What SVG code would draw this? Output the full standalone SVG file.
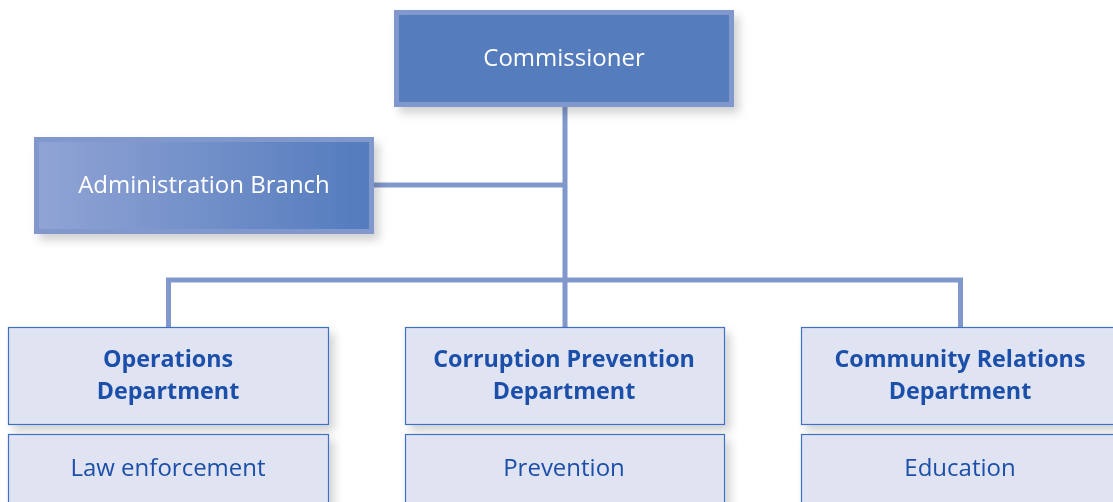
<svg xmlns="http://www.w3.org/2000/svg" width="1113" height="502" viewBox="0 0 1113 502">
  <style>
    .conn { fill: none; stroke: #8198cc; stroke-width: 5; }
    .top { fill: #547bbd; stroke: #8198cc; stroke-width: 5; }
    .dept { fill: #e0e4f2; stroke: #3f6fc1; stroke-width: 1.2; }
    .light { font-family: "Open Sans", "Noto Sans", sans-serif; font-size: 24px; fill: #ffffff; text-anchor: middle; }
    .bold { font-family: "Open Sans", "Noto Sans", sans-serif; font-size: 23.3px; font-weight: bold; fill: #1c4fa9; text-anchor: middle; }
    .reg { font-family: "Open Sans", "Noto Sans", sans-serif; font-size: 24px; fill: #1c4fa9; text-anchor: middle; }
  </style>
  <defs>
    <filter id="shadow" x="-10%" y="-20%" width="130%" height="150%">
      <feDropShadow dx="5" dy="6" stdDeviation="5" flood-color="#000000" flood-opacity="0.18"/>
    </filter>
    <linearGradient id="adminFill" x1="0" y1="0" x2="1" y2="0">
      <stop offset="0" stop-color="#91a4d5"/>
      <stop offset="1" stop-color="#537bbd"/>
    </linearGradient>
  </defs>

  <rect width="1113" height="502" fill="#ffffff"/>

  <g id="connectors">
    <path class="conn" d="M565,107 V327"/>
    <path class="conn" d="M374,185 H565"/>
    <path class="conn" d="M168.5,327 V280 H960.5 V327"/>
  </g>

  <g id="commissioner" filter="url(#shadow)">
    <rect class="top" x="396.5" y="12.5" width="335" height="92"/>
    <text class="light" x="564" y="66">Commissioner</text>
  </g>

  <g id="administration-branch" filter="url(#shadow)">
    <rect class="top" x="36.5" y="139.5" width="335" height="92" style="fill:url(#adminFill)"/>
    <text class="light" x="204" y="193">Administration Branch</text>
  </g>

  <g id="operations-department" filter="url(#shadow)">
    <rect class="dept" x="8.5" y="327.5" width="320" height="97"/>
    <text class="bold" x="168" y="367">Operations</text>
    <text class="bold" x="168" y="399">Department</text>
  </g>
  <g id="law-enforcement" filter="url(#shadow)">
    <rect class="dept" x="8.5" y="434.5" width="320" height="80"/>
    <text class="reg" x="168" y="476">Law enforcement</text>
  </g>

  <g id="corruption-prevention-department" filter="url(#shadow)">
    <rect class="dept" x="405.5" y="327.5" width="319" height="97"/>
    <text class="bold" x="564" y="367">Corruption Prevention</text>
    <text class="bold" x="564" y="399">Department</text>
  </g>
  <g id="prevention" filter="url(#shadow)">
    <rect class="dept" x="405.5" y="434.5" width="319" height="80"/>
    <text class="reg" x="564" y="476">Prevention</text>
  </g>

  <g id="community-relations-department" filter="url(#shadow)">
    <rect class="dept" x="801.5" y="327.5" width="320" height="97"/>
    <text class="bold" x="960" y="367">Community Relations</text>
    <text class="bold" x="960" y="399">Department</text>
  </g>
  <g id="education" filter="url(#shadow)">
    <rect class="dept" x="801.5" y="434.5" width="320" height="80"/>
    <text class="reg" x="960" y="476">Education</text>
  </g>
</svg>
